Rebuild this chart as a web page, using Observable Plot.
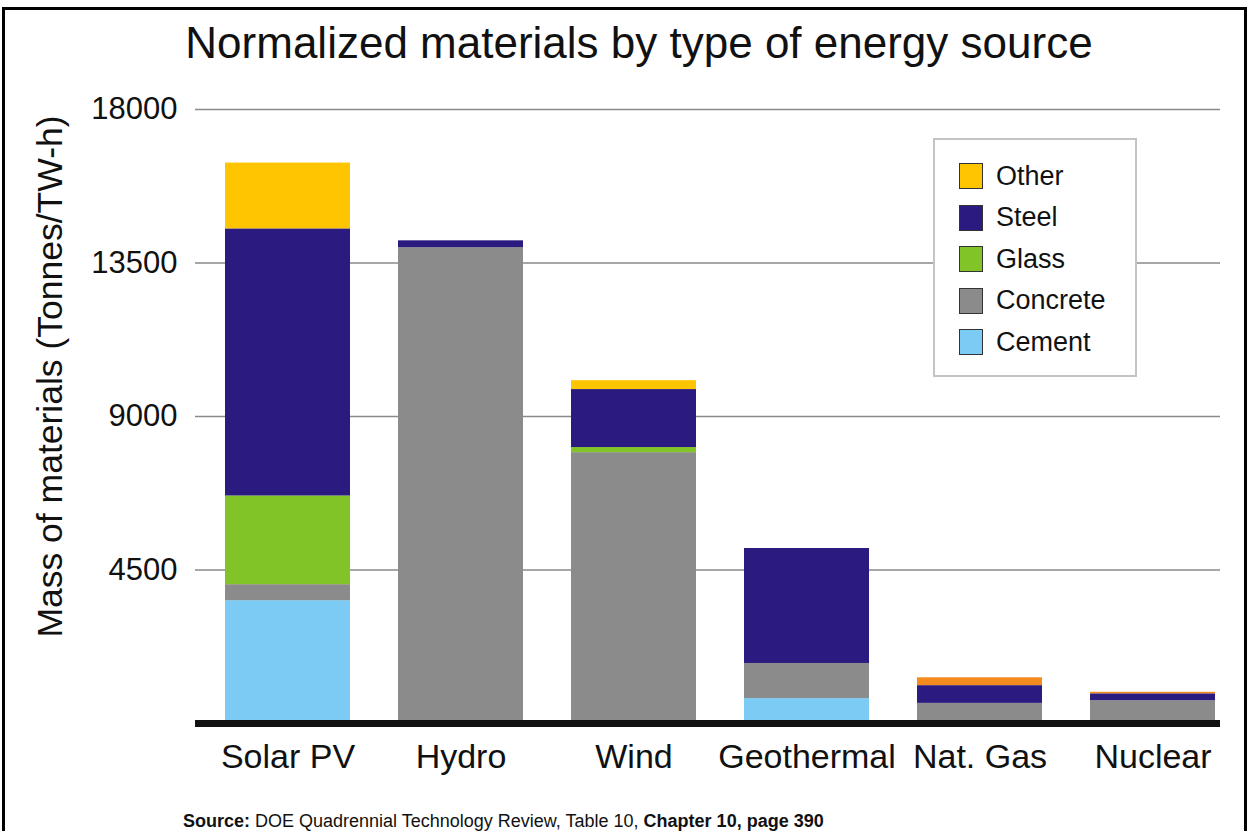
<!DOCTYPE html>
<html>
<head>
<meta charset="utf-8">
<script src="https://cdn.jsdelivr.net/npm/d3@7"></script>
<script src="https://cdn.jsdelivr.net/npm/@observablehq/plot@0.6"></script>
<style>
  html, body { margin: 0; padding: 0; background: #fff; }
  #wrap { position: relative; width: 1257px; height: 831px; overflow: hidden; background: #fff;
          font-family: "Liberation Sans", Arial, Helvetica, sans-serif; color: #111; }
  #border { position: absolute; left: 2px; top: 7px; width: 1245px; height: 850px; border: 3px solid #000; box-sizing: border-box; }
  #title { position: absolute; left: 0; width: 1278px; top: 21px; text-align: center; font-size: 44px; line-height: 44px; }
  #chart { position: absolute; left: 0; top: 80px; }
  #chart svg { overflow: visible; }
  #legend { position: absolute; left: 933px; top: 138px; width: 204px; height: 239px; box-sizing: border-box;
            border: 2px solid #c4c4c4; background: #fff; }
  .item { position: absolute; left: 24px; height: 28px; display: flex; align-items: center; }
  .sw { width: 24px; height: 26px; box-sizing: border-box; border: 1px solid #333; margin-right: 13px; }
  .lab { font-size: 27px; }
  #source { position: absolute; left: 183px; top: 812px; font-size: 18px; line-height: 18px; white-space: nowrap; }
</style>
</head>
<body>
<div id="wrap">
  <div id="border"></div>
  <div id="title"></div>
  <div id="chart"></div>
  <div id="legend"></div>
  <div id="source"></div>
</div>
<script>
const titleText = "Normalized materials by type of energy source";
const yLabel = "Mass of materials (Tonnes/TW-h)";
const sources = ["Solar PV", "Hydro", "Wind", "Geothermal", "Nat. Gas", "Nuclear"];
const materials = ["Cement", "Concrete", "Glass", "Steel", "Other", "Other*"];
const cement   = [3600,     0,    0,  730,   0,   0];
const concrete = [ 470, 13950, 7940, 1030, 590, 670];
const glass    = [2600,     0,  150,    0,   0,   0];
const steel    = [7830,   200, 1700, 3370, 520, 200];
const other    = [1930,     0,  260,    0,   0,   0];
const otherAlt = [   0,     0,    0,    0, 230,  45];
const yTicks = [4500, 9000, 13500, 18000];
const colors = ["#7ccbf5", "#8b8b8b", "#80c428", "#2b1a80", "#ffc500", "#f58a1f"];
const legendItems = ["Other", "Steel", "Glass", "Concrete", "Cement"];

const series = [cement, concrete, glass, steel, other, otherAlt];
const data = [];
sources.forEach((s, i) => {
  materials.forEach((m, j) => data.push({source: s, material: m, value: series[j][i]}));
});

document.getElementById("title").textContent = titleText;

const plot = Plot.plot({
  width: 1257,
  height: 720,
  marginLeft: 195,
  marginRight: 37,
  marginTop: 29,
  marginBottom: 77,
  style: {fontFamily: '"Liberation Sans", Arial, Helvetica, sans-serif', color: "#111", background: "transparent", overflow: "visible"},
  x: {domain: sources, paddingInner: 0.28, paddingOuter: 0.0857, align: 0.85, label: null},
  y: {domain: [0, 18000], label: null},
  color: {domain: materials, range: colors},
  marks: [
    Plot.gridY({ticks: yTicks, stroke: "#8a8a8a", strokeOpacity: 1, strokeWidth: 1.5}),
    Plot.barY(data, {x: "source", y: "value", fill: "material", order: materials}),
    Plot.ruleY([0], {stroke: "#111", strokeWidth: 7}),
    Plot.axisY({ticks: yTicks, tickFormat: d3.format("d"), tickSize: 0, tickPadding: 18, fontSize: 31, label: null}),
    Plot.axisX({tickSize: 0, tickPadding: 20, fontSize: 34, label: null}),
    Plot.text([yLabel], {text: d => d, frameAnchor: "left", textAnchor: "middle", lineAnchor: "middle", rotate: -90, dx: -145, dy: -40, fontSize: 35.5, fill: "#111"})
  ]
});
document.getElementById("chart").appendChild(plot);

const legend = document.getElementById("legend");
legendItems.forEach((name, i) => {
  const it = document.createElement("div");
  it.className = "item";
  it.style.top = (22 + i * 41.5) + "px";
  const sw = document.createElement("div");
  sw.className = "sw";
  sw.style.background = colors[materials.indexOf(name)];
  const lab = document.createElement("span");
  lab.className = "lab";
  lab.textContent = name;
  it.appendChild(sw); it.appendChild(lab);
  legend.appendChild(it);
});

document.getElementById("source").innerHTML =
  "<b>Source:</b> DOE Quadrennial Technology Review, Table 10, <b>Chapter 10, page 390</b>";
</script>
</body>
</html>
